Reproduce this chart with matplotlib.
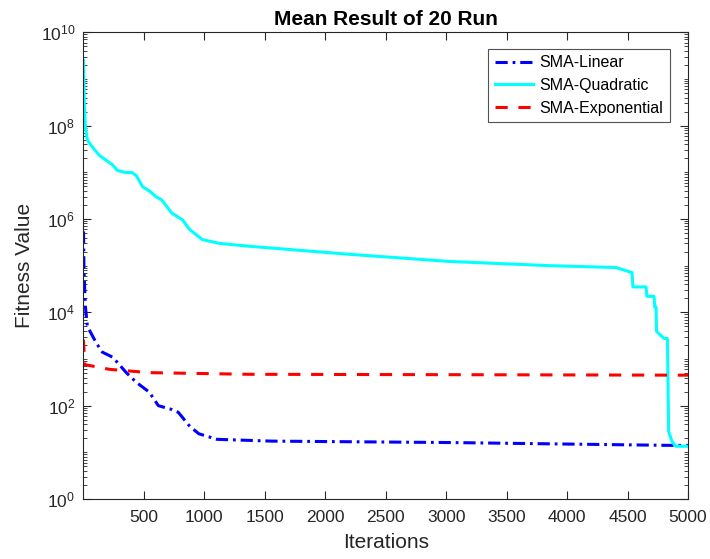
import matplotlib
matplotlib.use('Agg')
import matplotlib.pyplot as plt
from matplotlib.ticker import LogLocator, FixedLocator, NullFormatter

plt.rcParams['font.family'] = ['Liberation Sans', 'DejaVu Sans']
plt.rcParams['mathtext.fontset'] = 'custom'
plt.rcParams['mathtext.rm'] = 'Liberation Sans'
plt.rcParams['mathtext.it'] = 'Liberation Sans:italic'

# SMA-Linear
lin_iter = [1, 5, 17, 33, 107, 157, 240, 280, 355, 438, 545, 620, 730, 785,
            880, 955, 1105, 1555, 3050, 4850, 5000]
lin_val = [5.4e5, 8e4, 1.3e4, 5e3, 2.2e3, 1.4e3, 1.1e3, 850, 510, 316, 195,
           100, 83, 72, 36, 25, 19, 17.4, 16.2, 14.1, 14.1]

# SMA-Quadratic
quad_iter = [1, 8, 17, 33, 74, 132, 190, 240, 280, 340, 405, 440, 490, 545,
             600, 645, 730, 820, 880, 985, 1125, 1370, 2200, 3025, 3850,
             4405, 4537, 4545, 4653, 4660, 4719, 4725, 4736, 4740, 4802,
             4830, 4840, 4868, 4900, 5000]
quad_val = [2.5e9, 2.8e8, 9e7, 4.9e7, 3.5e7, 2.3e7, 1.8e7, 1.45e7, 1.1e7,
            1.0e7, 9.8e6, 8.3e6, 4.9e6, 4.0e6, 3.0e6, 2.6e6, 1.35e6, 9.5e5,
            5.9e5, 3.6e5, 3.0e5, 2.6e5, 1.75e5, 1.23e5, 1.0e5, 9.1e4, 7.1e4,
            3.5e4, 3.5e4, 2.2e4, 2.2e4, 1.3e4, 1.3e4, 3.9e3, 2.75e3, 2.75e3,
            28, 17, 13.5, 13.5]

# SMA-Exponential
exp_iter = [1, 3, 10, 215, 545, 1370, 5000]
exp_val = [2.6e3, 2.0e3, 760, 600, 510, 470, 450]

xticks = [500, 1000, 1500, 2000, 2500, 3000, 3500, 4000, 4500, 5000]
yticks = [1e0, 1e2, 1e4, 1e6, 1e8, 1e10]
ytick_labels = [r'$\mathregular{10^{%d}}$' % e for e in [0, 2, 4, 6, 8, 10]]

grey = '#262626'
fig = plt.figure(figsize=(7.1, 5.59), dpi=100)
ax = fig.add_axes([0.1176, 0.1073, 0.8514, 0.8350])

ax.plot(lin_iter, lin_val, color='#0000ff', linestyle=(0, (4, 1.6, 0.9, 1.6)),
        linewidth=2.2, label='SMA-Linear')
ax.plot(quad_iter, quad_val, color='#00ffff', linestyle='-', linewidth=2.2,
        label='SMA-Quadratic')
ax.plot(exp_iter, exp_val, color='#ff0000', linestyle=(0, (4, 3.5)),
        linewidth=2.2, label='SMA-Exponential')

ax.set_yscale('log')
ax.set_xlim(1, 5000)
ax.set_ylim(1, 1e10)
ax.set_xticks(xticks)
ax.set_xticklabels([str(t) for t in xticks])
ax.yaxis.set_major_locator(FixedLocator(yticks))
ax.set_yticklabels(ytick_labels)
ax.yaxis.set_minor_locator(LogLocator(base=10, subs=range(1, 10), numticks=100))
ax.yaxis.set_minor_formatter(NullFormatter())

ax.tick_params(which='both', direction='in', top=True, right=True,
               colors=grey, labelsize=12.5)
ax.tick_params(which='major', length=6, width=0.8)
ax.tick_params(which='minor', length=3, width=0.6)
ax.tick_params(axis='x', pad=8)
ax.tick_params(axis='y', pad=6)
for s in ax.spines.values():
    s.set_color(grey)
    s.set_linewidth(0.8)

ax.set_xlabel('Iterations', fontsize=15, color=grey, labelpad=6)
ax.set_ylabel('Fitness Value', fontsize=15, color=grey, labelpad=5)
ax.set_title('Mean Result of 20 Run', fontsize=15, fontweight='bold', pad=5)

leg = ax.legend(loc='upper right', bbox_to_anchor=(0.970, 0.965), fontsize=11.5,
                frameon=True, fancybox=False, handlelength=2.4,
                borderpad=0.42, labelspacing=0.48, handletextpad=0.4,
                borderaxespad=0)
leg.get_frame().set_edgecolor(grey)
leg.get_frame().set_linewidth(0.8)

fig.savefig('out.png', dpi=100)
